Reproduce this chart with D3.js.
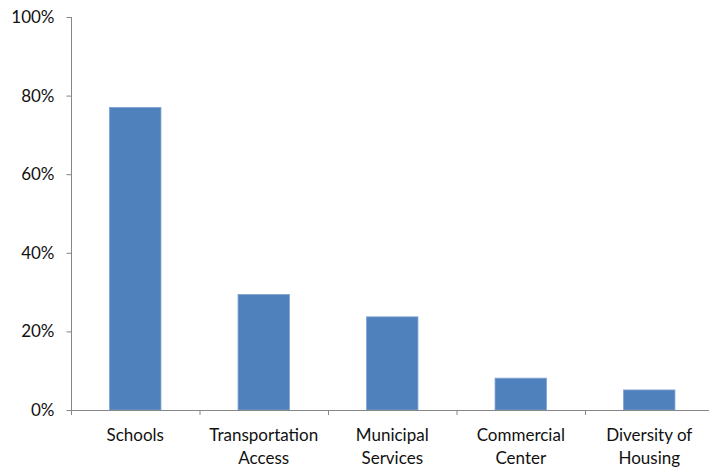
<!DOCTYPE html>
<html>
<head>
<meta charset="utf-8">
<script src="https://cdn.jsdelivr.net/npm/d3@7"></script>
<style>
  html, body { margin: 0; padding: 0; background: #fff; }
  svg { display: block; }
  text { font-family: Lato, "Open Sans", sans-serif; fill: #111; }
</style>
</head>
<body>
<svg id="chart" width="709" height="470"></svg>
<script>
// Share of respondents citing each factor
const categories = [
  ["Schools"],
  ["Transportation", "Access"],
  ["Municipal", "Services"],
  ["Commercial", "Center"],
  ["Diversity of", "Housing"]
];
const values = [0.77, 0.294, 0.237, 0.081, 0.051];
const yTicks = [0, 0.2, 0.4, 0.6, 0.8, 1.0];

const svg = d3.select("#chart");
const margin = { left: 71, top: 17 };
const plotBottom = 410;
const bandW = 128.5;

const x = d3.scaleBand()
  .domain(d3.range(categories.length))
  .range([margin.left, margin.left + bandW * categories.length])
  .paddingInner(0.6)
  .paddingOuter(0.3);

const y = d3.scaleLinear().domain([0, 1]).range([plotBottom, margin.top]);

const axisColor = "#868686";

// Bars
svg.append("g")
  .selectAll("rect")
  .data(values)
  .join("rect")
  .attr("x", (d, i) => x(i))
  .attr("y", d => y(d))
  .attr("width", x.bandwidth())
  .attr("height", d => plotBottom - y(d))
  .attr("fill", "#4F81BD")
  .attr("stroke", "#7FA3D1")
  .attr("stroke-width", 0.8);

// Y axis
const yAxis = d3.axisLeft(y)
  .tickValues(yTicks)
  .tickFormat(d3.format(".0%"))
  .tickSize(5)
  .tickPadding(12);
const gy = svg.append("g")
  .attr("transform", `translate(${margin.left + 0.5},0)`)
  .call(yAxis);
gy.select(".domain").attr("stroke", axisColor).attr("d", `M0,${margin.top}V${plotBottom}`);
gy.selectAll(".tick line").attr("stroke", axisColor);
gy.selectAll(".tick text").style("font-size", "17px").attr("fill", "#111");

// X axis line with boundary ticks
const xEnd = margin.left + bandW * categories.length;
svg.append("line")
  .attr("x1", margin.left).attr("x2", xEnd)
  .attr("y1", plotBottom + 0.5).attr("y2", plotBottom + 0.5)
  .attr("stroke", axisColor);
svg.append("g")
  .selectAll("line")
  .data(d3.range(categories.length + 1))
  .join("line")
  .attr("x1", i => margin.left + i * bandW + 0.5)
  .attr("x2", i => margin.left + i * bandW + 0.5)
  .attr("y1", plotBottom)
  .attr("y2", plotBottom + 5)
  .attr("stroke", axisColor);

// Category labels
const labels = svg.append("g")
  .selectAll("text")
  .data(categories)
  .join("text")
  .attr("text-anchor", "middle")
  .style("font-size", "17px")
  .attr("transform", (d, i) => `translate(${margin.left + (i + 0.5) * bandW},441)`);
labels.selectAll("tspan")
  .data(d => d)
  .join("tspan")
  .attr("x", 0)
  .attr("y", (d, j) => j * 23)
  .text(d => d);
</script>
</body>
</html>
